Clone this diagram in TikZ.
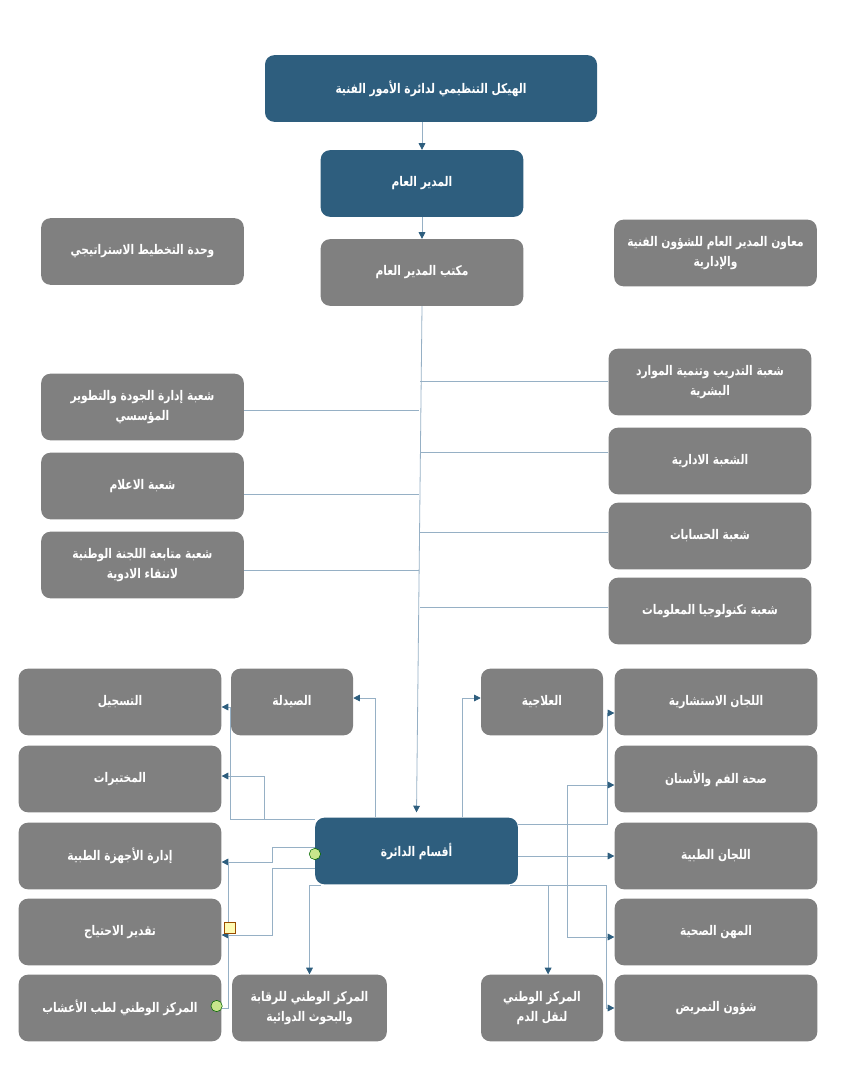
\documentclass[tikz,border=0pt]{standalone}
\usepackage{fontspec}
\newfontfamily\arabicfont[Script=Arabic, FakeStretch=0.8]{DejaVu Sans}
\TeXXeTstate=1
\usetikzlibrary{arrows.meta,calc}
\definecolor{deptblue}{RGB}{46,94,126}
\definecolor{unitgray}{RGB}{128,128,128}
\definecolor{linkblue}{RGB}{150,176,197}
\definecolor{gluegreen}{RGB}{200,230,140}
\newcommand{\artext}[1]{\beginR #1\endR}
\begin{document}
\begin{tikzpicture}[
            x = 0.75pt, y = -0.75pt,
            unit/.style = {fill=unitgray, rounded corners=7pt, text=white, align=center,
                font=\arabicfont\bfseries\fontsize{10}{15}\selectfont, minimum height=50pt, inner sep=2pt},
            wide/.style = {unit, minimum width=152pt},
            narrow/.style = {unit, minimum width=91.5pt},
            head/.style = {wide, fill=deptblue},
            arr/.style = {draw=linkblue, line width=0.6pt, -{Triangle[length=5pt, width=5pt, color=deptblue]}},
            link/.style = {draw=linkblue, line width=0.6pt},
            glue/.style = {circle, draw=green!40!black, fill=gluegreen, inner sep=0pt, minimum size=8.5pt},
            handle/.style = {draw=orange!60!black, fill=yellow!30, inner sep=0pt, minimum size=8pt},
        ]
        \useasboundingbox (0,0) rectangle (841,1080);

        \node (title) [head, minimum width=249pt] at (431,88.5){\artext{الهيكل التنظيمي لدائرة الأمور الفنية}};
        \node (gm) [head] at (422,183.5){\artext{المدير العام}};
        \node (office) [wide] at (422,272.5){\artext{مكتب المدير العام}};
        \node (plan) [wide] at (142.5,251.5){\artext{وحدة التخطيط الاستراتيجي}};
        \node (deputy) [wide] at (715.5,253){\artext{معاون المدير العام للشؤون الفنية}\\\artext{والإدارية}};

        \node (train) [wide] at (710,382){\artext{شعبة التدريب وتنمية الموارد}\\\artext{البشرية}};
        \node (admin) [wide] at (710,461){\artext{الشعبة الادارية}};
        \node (acc) [wide] at (710,536){\artext{شعبة الحسابات}};
        \node (it) [wide] at (710,611){\artext{شعبة تكنولوجيا المعلومات}};
        \node (quality) [wide] at (142.5,407){\artext{شعبة إدارة الجودة والتطوير}\\\artext{المؤسسي}};
        \node (media) [wide] at (142.5,486){\artext{شعبة الاعلام}};
        \node (drugs) [wide] at (142.5,565){\artext{شعبة متابعة اللجنة الوطنية}\\\artext{لانتقاء الادوية}};

        \node (aqsam) [head] at (416.5,851){\artext{أقسام الدائرة}};
        \node (pharm) [narrow] at (292,702){\artext{الصيدلة}};
        \node (reg) [wide] at (120,702){\artext{التسجيل}};
        \node (labs) [wide] at (120,779){\artext{المختبرات}};
        \node (devices) [wide] at (120,856){\artext{إدارة الأجهزة الطبية}};
        \node (needs) [wide] at (120,932){\artext{تقدير الاحتياج}};
        \node (herbs) [wide] at (120,1008){\artext{المركز الوطني لطب الأعشاب}};
        \node (control) [unit, minimum width=116pt] at (309.5,1008){\artext{المركز الوطني للرقابة}\\\artext{والبحوث الدوائية}};
        \node (therap) [narrow] at (542,702){\artext{العلاجية}};
        \node (consult) [wide] at (716,702){\artext{اللجان الاستشارية}};
        \node (dental) [wide] at (716,779){\artext{صحة الفم والأسنان}};
        \node (medcom) [wide] at (716,856){\artext{اللجان الطبية}};
        \node (prof) [wide] at (716,932){\artext{المهن الصحية}};
        \node (nursing) [wide] at (716,1008){\artext{شؤون التمريض}};
        \node (blood) [narrow] at (542,1008){\artext{المركز الوطني}\\\artext{لنقل الدم}};

        \path[arr] (gm.north |- title.south) -- (gm.north);
        \path[arr] (office.north |- gm.south) -- (office.north);
        \path[arr] (office.south) -- ($(aqsam.north)+(0,-5)$);
        \foreach \n/\d in {quality/3, media/8, drugs/5}
            \path[link] ($(\n.east)+(0,\d)$) -- ($(\n.east -| office.south)+(-3,\d)$);
        \foreach \n/\d in {train/-1, admin/-9, acc/-4, it/-4}
            \path[link] ($(\n.west)+(0,\d)$) -- ($(\n.west -| office.south)+(-2,\d)$);

        \path[arr] ($(aqsam.north)+(-41,0)$) |- ($(pharm.east)+(0,-4)$);
        \path[arr] ($(aqsam.north west)+(0,2)$) -| ($(pharm.west)+(0,5)$) -- ($(reg.east)+(0,5)$);
        \path[arr] ($(aqsam.north west)+(0,2)$) -| ($(labs.east)+(43,-3)$) -- ($(labs.east)+(0,-3)$);
        \path[arr] ($(aqsam.west)+(0,-4)$) -- ++(-43,0) |- ($(devices.east)+(0,6)$);
        \path[arr] ($(aqsam.west)+(0,17)$) -- ++(-43,0) |- ($(needs.east)+(0,3)$);
        \path[link] ($(devices.east)+(7,6)$) |- (herbs.east);
        \path[arr] ($(aqsam.south west)+(6,1)$) -| (control.north);
        \path[arr] ($(aqsam.north)+(46,0)$) |- ($(therap.west)+(0,-4)$);
        \path[arr] ($(aqsam.east)+(0,-27)$) -- ++(89,0) |- ($(consult.west)+(0,11)$);
        \path[arr] (aqsam.east |- medcom.west) -- (medcom.west);
        \coordinate (split) at ($(aqsam.east |- medcom.west)+(49,0)$);
        \path[arr] (split) |- ($(dental.west)+(0,6)$);
        \path[arr] (split) |- ($(prof.west)+(0,5)$);
        \path[arr] ($(aqsam.south east)+(-8,1)$) -- ++(96,0) |- (nursing.west);
        \coordinate (drop) at ($(aqsam.south east)+(30,1)$);
        \path[arr] (drop) -- (drop |- blood.north);

        \node (g1) [glue] at ($(aqsam.west)+(0,3)$){};
        \node (g2) [glue] at ($(herbs.east)+(-5,-2)$){};
        \node (h1) [handle] at ($(needs.east)+(8,-4)$){};
    \end{tikzpicture}
\end{document}
